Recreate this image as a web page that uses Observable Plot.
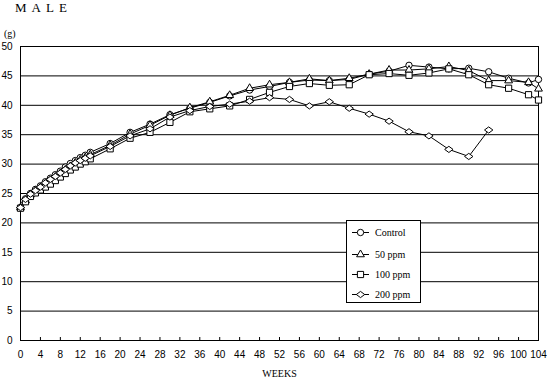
<!DOCTYPE html>
<html><head><meta charset="utf-8">
<script src="https://cdn.jsdelivr.net/npm/d3@7"></script>
<script src="https://cdn.jsdelivr.net/npm/@observablehq/plot@0.6"></script>
<style>
body{margin:0;background:#fff;}
#chart{position:relative;width:548px;height:381px;}
#title{position:absolute;left:15px;top:0px;font:13px "Liberation Serif",serif;letter-spacing:5px;}
#unit{position:absolute;left:4px;top:28px;font:10px "Liberation Serif",serif;}
</style></head><body><div id="chart"><div id="title">MALE</div><div id="unit">(g)</div></div>
<script>
const weeks = [0,1,2,3,4,5,6,7,8,9,10,11,12,13,14,18,22,26,30,34,38,42,46,50,54,58,62,66,70,74,78,82,86,90,94,98,102,104];
const control = [22.6,24.1,25.0,25.7,26.3,27.0,27.6,28.2,28.8,29.5,30.1,30.6,31.1,31.5,32.0,33.5,35.4,36.8,38.4,39.5,40.5,41.6,42.6,43.2,43.9,44.3,44.2,44.4,45.3,45.8,46.8,46.5,46.2,46.3,45.7,44.6,43.8,44.4];
const ppm50 = [22.6,23.8,24.8,25.4,26.0,26.6,27.2,27.8,28.4,29.0,29.6,30.2,30.7,31.1,31.6,33.2,35.1,36.6,38.3,39.6,40.6,41.7,42.9,43.5,43.9,44.5,44.2,44.6,45.3,46.0,46.0,46.2,46.6,45.9,44.2,44.2,43.9,42.8];
const ppm100 = [22.5,23.6,24.5,25.1,25.6,26.1,26.6,27.2,27.8,28.4,29.0,29.5,30.0,30.4,30.9,32.6,34.4,35.4,37.1,38.9,39.4,39.9,41.0,42.2,43.2,43.7,43.4,43.5,45.2,45.4,45.1,45.5,46.2,45.2,43.5,42.9,41.8,40.9];
const ppm200 = [22.6,24.0,24.9,25.5,26.1,26.8,27.4,27.9,28.5,29.1,29.7,30.2,30.6,31.0,31.4,33.0,34.8,36.0,38.0,39.1,39.8,40.2,40.7,41.3,41.0,39.9,40.6,39.5,38.5,37.3,35.5,34.8,32.5,31.3,35.8];
const seriesNames = ["Control","50 ppm","100 ppm","200 ppm"];
const xTicks = [0,4,8,12,16,20,24,28,32,36,40,44,48,52,56,60,64,68,72,76,80,84,88,92,96,100,104];
const yTicks = [0,5,10,15,20,25,30,35,40,45,50];

const wideDiamond = {
  draw(context, size) {
    const r = Math.sqrt(size / Math.PI);
    const w = r * 1.35, h = r * 1.0;
    context.moveTo(0, -h); context.lineTo(w, 0); context.lineTo(0, h); context.lineTo(-w, 0); context.closePath();
  }
};
const symbols = ["circle", "triangle", "square", wideDiamond];
const radii = [3.2, 2.9, 3.5, 3.1];
const values = [control, ppm50, ppm100, ppm200];
const series = seriesNames.map((name, k) => values[k].map((v, i) => ({series: name, week: weeks[i], value: v})));

const numFont = "Liberation Sans, sans-serif";
const marks = [
  Plot.gridY(yTicks, {stroke: "black", strokeOpacity: 1, strokeWidth: 1}),
  Plot.frame({stroke: "black"}),
  Plot.axisY(yTicks, {tickSize: 0, tickPadding: 8, fontSize: 10, fontFamily: numFont, label: null}),
  Plot.axisX(xTicks, {tickSize: -3, tickPadding: 13, fontSize: 10, fontFamily: numFont, label: null}),
  Plot.text(["WEEKS"], {frameAnchor: "bottom", dy: 36, text: d => d, fontSize: 10, fontFamily: "Liberation Serif, serif"})
];
series.forEach((data, k) => {
  marks.push(Plot.line(data, {x: "week", y: "value", stroke: "black", strokeWidth: 1}));
});
series.forEach((data, k) => {
  marks.push(Plot.dot(data, {x: "week", y: "value", symbol: symbols[k], r: radii[k], stroke: "black", fill: "white", strokeWidth: 1}));
});

const plot = Plot.plot({
  width: 548, height: 381,
  marginLeft: 20, marginRight: 10, marginTop: 46, marginBottom: 41,
  x: {domain: [0, 104], axis: null},
  y: {domain: [0, 50], axis: null},
  style: {background: "white", color: "black", fontSize: "10px"},
  marks
});
plot.style.position = "absolute"; plot.style.left = "0"; plot.style.top = "0";
const chart = document.getElementById("chart");
chart.insertBefore(plot, chart.firstChild);

// legend
const leg = d3.select("#chart").append("svg")
  .attr("style", "position:absolute;left:346px;top:220px")
  .attr("width", 76).attr("height", 84);
leg.append("rect").attr("x", 0.5).attr("y", 0.5).attr("width", 74).attr("height", 82)
  .attr("fill", "white").attr("stroke", "black");
const rowsY = [12, 34, 54, 74];
const legSyms = [d3.symbolCircle, d3.symbolTriangle, d3.symbolSquare, wideDiamond];
seriesNames.forEach((name, i) => {
  const g = leg.append("g").attr("transform", `translate(0,${rowsY[i]})`);
  g.append("line").attr("x1", 6).attr("x2", 23).attr("y1", 0.5).attr("y2", 0.5).attr("stroke", "black");
  g.append("path").attr("d", d3.symbol(legSyms[i], Math.PI * radii[i] * radii[i])()).attr("transform", "translate(14.5,0.5)")
    .attr("fill", "white").attr("stroke", "black");
  g.append("text").attr("x", 29).attr("y", 0).attr("dy", "0.35em").text(name)
    .attr("font-family", "Liberation Serif, serif").attr("font-size", 10);
});
</script></body></html>
